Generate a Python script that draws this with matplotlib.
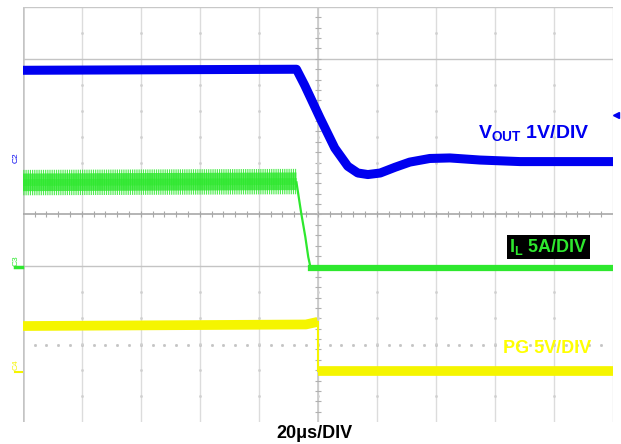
import numpy as np
import matplotlib.pyplot as plt

plt.rcParams['font.family'] = ['Liberation Sans', 'DejaVu Sans']
plt.rcParams['mathtext.fontset'] = 'custom'
plt.rcParams['mathtext.rm'] = 'Liberation Sans:bold'
plt.rcParams['mathtext.it'] = 'Liberation Sans:bold'
plt.rcParams['mathtext.bf'] = 'Liberation Sans:bold'
plt.rcParams['hatch.linewidth'] = 0.6

# scope screen: 10 x 8 divisions, everything below in divisions
vout_t = [0, 4.64, 4.78, 5.04, 5.29, 5.51, 5.68, 5.85, 6.06, 6.31, 6.56, 6.90, 7.24, 7.75, 8.43, 10]
vout_y = [6.78, 6.80, 6.49, 5.86, 5.28, 4.93, 4.80, 4.77, 4.80, 4.91, 5.01, 5.08, 5.09, 5.05, 5.02, 5.02]

il_t = [0, 4.64, 4.72, 4.79, 4.84, 4.88, 10]
il_y = [4.62, 4.62, 4.03, 3.57, 3.18, 2.97, 2.97]
# switching ripple envelope before the step
ripple_t = [0, 4.64]
ripple_lo = [4.37, 4.39]
ripple_hi = [4.86, 4.88]
mid_lo = [4.45, 4.47]
mid_hi = [4.79, 4.81]
core_lo = [4.56, 4.58]
core_hi = [4.69, 4.71]

pg_hi_t = [0, 4.8, 5.0]
pg_hi_y = [1.85, 1.88, 1.93]
pg_lo_t = [5.0, 10]
pg_lo_y = [0.99, 0.99]

BLUE = '#0000f0'
GREEN = '#2ee82e'
YELLOW = '#f5f500'

fig = plt.figure(figsize=(6.21, 4.44), dpi=100)
ax = fig.add_axes([22.7 / 621, 22 / 444, 590 / 621, 415 / 444])
ax.set_xlim(0, 10)
ax.set_ylim(0, 8)
ax.axis('off')

# graticule
for x in range(1, 11):
    ax.axvline(x, color='#dcdcdc', lw=1.0, zorder=0)
ax.axvline(0, color='#c4c4c4', lw=1.8, zorder=0)
ax.axhline(8, color='#c8c8c8', lw=1.0, zorder=0)
for y in [7, 3]:
    ax.axhline(y, color='#c4c4c4', lw=1.0, zorder=0)
ax.axhline(4, color='#a8a8a8', lw=1.2, zorder=0)
ax.axvline(5, color='#c8c8c8', lw=1.2, zorder=0)

minor = np.arange(0.2, 10, 0.2)
ax.plot(minor, [4] * len(minor), ls='none', marker='|', ms=5, mew=0.8, color='#a8a8a8', zorder=0)
minor_y = np.arange(0.2, 8, 0.2)
ax.plot([5] * len(minor_y), minor_y, ls='none', marker='_', ms=5, mew=0.8, color='#b0b0b0', zorder=0)
# dotted reference level
ax.plot(minor, [1.48] * len(minor), ls='none', marker='s', ms=1.0, color='#c4c4c4', zorder=0)
# small dots on the vertical grid lines
for x in range(1, 10):
    ys = [0.5, 1, 1.5, 2, 2.5, 5, 5.5, 6, 6.5, 7.5]
    ax.plot([x] * len(ys), ys, ls='none', marker='s', ms=0.9, color='#d0d0d0', zorder=0)

# traces
ax.plot(vout_t, vout_y, color=BLUE, lw=6.5, solid_joinstyle='round', zorder=3)

ax.fill_between(ripple_t, ripple_lo, ripple_hi, facecolor='none', edgecolor=GREEN,
                hatch='|' * 9, linewidth=0, zorder=3)
ax.fill_between(ripple_t, mid_lo, mid_hi, facecolor='none', edgecolor=GREEN,
                hatch='|' * 16, linewidth=0, zorder=3)
ax.fill_between(ripple_t, core_lo, core_hi, color=GREEN, alpha=0.6, linewidth=0, zorder=3)
ax.plot(il_t[1:], il_y[1:], color=GREEN, lw=1.6, zorder=3)
ax.plot(il_t[5:], il_y[5:], color=GREEN, lw=4.5, zorder=3)

ax.plot(pg_hi_t, pg_hi_y, color=YELLOW, lw=7, solid_capstyle='butt', zorder=2)
ax.plot(pg_lo_t, pg_lo_y, color=YELLOW, lw=7, solid_capstyle='butt', zorder=2)
ax.plot([5.0, 5.0], [pg_hi_y[-1], pg_lo_y[0]], color=YELLOW, lw=1.5, zorder=2)

# channel markers on the left
ax.text(-0.11, 5.1, 'C2', color=BLUE, fontsize=6, rotation=90, ha='center', va='center', clip_on=False)
ax.text(-0.11, 3.1, 'C3', color=GREEN, fontsize=6, rotation=90, ha='center', va='center', clip_on=False)
ax.plot([-0.13, -0.02], [2.98, 2.98], color=GREEN, lw=2.5, clip_on=False)
ax.text(-0.11, 1.1, 'C4', color=YELLOW, fontsize=6, rotation=90, ha='center', va='center', clip_on=False)
ax.plot([-0.13, -0.02], [0.97, 0.97], color=YELLOW, lw=1.5, clip_on=False)
# trigger level marker
ax.plot([10.05], [5.92], marker='<', ms=4, color=BLUE, clip_on=False)

# labels
ax.text(7.72, 5.47, r'V$_{\rm OUT}$ 1V/DIV', color=BLUE, fontsize=14, fontweight='bold',
        ha='left', va='baseline')
ax.text(8.25, 3.28, r'I$_{\rm L}$ 5A/DIV', color=GREEN, fontsize=13, fontweight='bold',
        ha='left', va='baseline',
        bbox=dict(boxstyle='square,pad=0.12', facecolor='black', edgecolor='none'))
ax.text(8.14, 1.33, 'PG 5V/DIV', color='#ffff00', fontsize=13, fontweight='bold',
        ha='left', va='baseline')
fig.text(314 / 621, 1 - 433 / 444, '20\u03bcs/DIV', color='black', fontsize=13,
         fontweight='bold', ha='center', va='center')

fig.savefig('out.png', dpi=100)
